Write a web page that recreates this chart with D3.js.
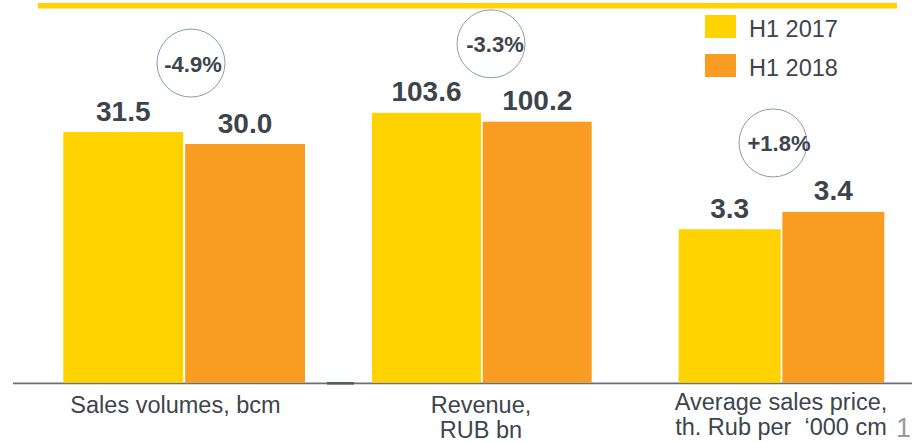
<!DOCTYPE html>
<html><head><meta charset="utf-8">
<script src="https://cdn.jsdelivr.net/npm/d3@7"></script>
<style>html,body{margin:0;padding:0;background:#fff;overflow:hidden}svg{display:block;font-family:"Liberation Sans",Arial,sans-serif}</style>
</head><body>
<svg id="chart" width="912" height="442"></svg>
<script>
// ---- data ----
const categories = [["Sales volumes, bcm"], ["Revenue,", "RUB bn"], ["Average sales price,", "th. Rub per  \u2018000 cm"]];
const seriesNames = ["H1 2017", "H1 2018"];
const h1_2017 = [31.5, 103.6, 3.3];
const h1_2018 = [30.0, 100.2, 3.4];
const valueLabels2017 = ["31.5", "103.6", "3.3"];
const valueLabels2018 = ["30.0", "100.2", "3.4"];
const changes = ["-4.9%", "-3.3%", "+1.8%"];
// each panel has its own value axis (as in the original slide)
const panelDomains = [[0, 48.1], [0, 146.9], [2.413, 4.625]];

// ---- layout ----
const colors = ["#FFD200", "#F89D21"];
const textColor = "#3d454c";
const baseY = 382.7;
const panels = [[63.3, 305], [372, 591.7], [678.7, 884.3]];
const catLabelX = [175.5, 481, 781];

const svg = d3.select("#chart");

// top rule
svg.append("rect").attr("x", 38).attr("y", 3).attr("width", 859).attr("height", 5.5).attr("fill", "#FFD200");

// axis line
svg.append("line").attr("x1", 13).attr("x2", 912).attr("y1", 383.3).attr("y2", 383.3)
  .attr("stroke", "#6a7177").attr("stroke-width", 1.8);
svg.append("line").attr("x1", 327).attr("x2", 354).attr("y1", 383.3).attr("y2", 383.3)
  .attr("stroke", "#555c62").attr("stroke-width", 2.6);

categories.forEach((cat, i) => {
  const x = d3.scaleBand().domain(seriesNames).range(panels[i]).paddingInner(0.016);
  const y = d3.scaleLinear().domain(panelDomains[i]).range([baseY, 0]);
  const vals = [h1_2017[i], h1_2018[i]];
  const labs = [valueLabels2017[i], valueLabels2018[i]];
  const g = svg.append("g");
  g.selectAll("rect.bar").data(seriesNames).join("rect")
    .attr("class", "bar")
    .attr("x", d => x(d)).attr("width", x.bandwidth())
    .attr("y", (d, j) => y(vals[j])).attr("height", (d, j) => baseY - y(vals[j]))
    .attr("fill", (d, j) => colors[j]);
  g.selectAll("text.val").data(seriesNames).join("text")
    .attr("class", "val")
    .attr("x", d => x(d) + x.bandwidth() / 2)
    .attr("y", (d, j) => y(vals[j]) - 11.5)
    .attr("text-anchor", "middle").attr("font-size", 28).attr("font-weight", "bold")
    .attr("fill", textColor).text((d, j) => labs[j]);
  // change bubble
  const topY = Math.min(y(vals[0]), y(vals[1]));
  const cx = [191, 491, 773][i];
  const cy = topY - 69;
  g.append("circle").attr("cx", cx).attr("cy", cy).attr("r", 34)
    .attr("fill", "none").attr("stroke", "#8e9ab2").attr("stroke-width", 1);
  g.append("text").attr("x", cx + [2, 4, 6][i]).attr("y", cy + 8.5)
    .attr("text-anchor", "middle").attr("font-size", 22).attr("font-weight", "bold")
    .attr("fill", textColor).text(changes[i]);
  // category label
  const t = g.append("text").attr("text-anchor", "middle").attr("font-size", 23.5).attr("fill", textColor)
    .style("white-space", "pre");
  const startY = i === 2 ? 410 : 413;
  cat.forEach((line, k) => {
    t.append("tspan").attr("x", catLabelX[i]).attr("y", startY + k * 25).text(line);
  });
});

// legend
const leg = svg.append("g");
seriesNames.forEach((s, j) => {
  leg.append("rect").attr("x", 705).attr("y", 15 + j * 39).attr("width", 31).attr("height", 23).attr("fill", colors[j]);
  leg.append("text").attr("x", 749).attr("y", 37.3 + j * 39).attr("font-size", 23.5).attr("fill", textColor).text(s);
});

// slide page number
svg.append("text").attr("x", 896).attr("y", 437).attr("font-size", 27).attr("fill", "#9a9a9a").text("1");
</script>
</body></html>
